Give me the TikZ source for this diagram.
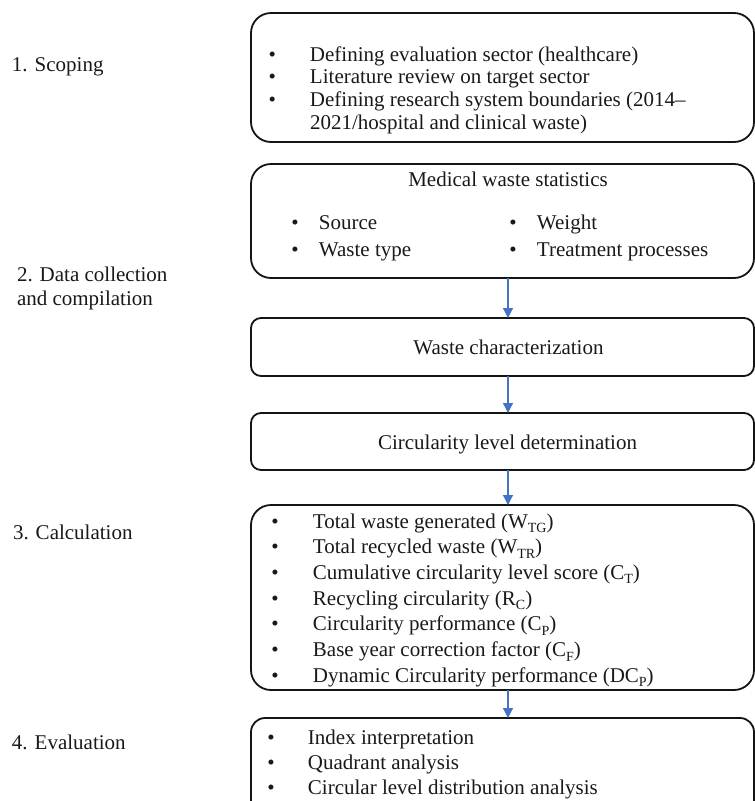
\documentclass[tikz,border=0pt]{standalone}
\usepackage{fontspec}
\setmainfont{Liberation Serif}
\usetikzlibrary{arrows.meta}
\definecolor{arrblue}{RGB}{68,114,196}
\definecolor{txtc}{RGB}{25,25,25}
\definecolor{linec}{RGB}{20,20,20}
\newcommand\sbs[1]{\raisebox{-4.5pt}{\fontsize{14}{14}\selectfont #1}}
\begin{document}
\begin{tikzpicture}[x=1pt,y=1pt,
  box/.style={draw=linec, line width=1.8pt, rounded corners=#1, minimum width=503pt, inner sep=0pt, outer sep=0pt},
  box/.default=20pt,
  txt/.style={anchor=base west, inner sep=0pt, outer sep=0pt, text=txtc, font=\fontsize{21}{24}\selectfont},
  ctxt/.style={txt, anchor=base},
  arr/.style={draw=arrblue, line width=1.2pt, -{Triangle[length=10pt,width=10pt]}}]
\useasboundingbox (0,0) rectangle (755,-801);
\clip (0,0) rectangle (755,-801);

% boxes
\node[box, minimum height=129pt] (b1) at (502.5,-77.5) {};
\node[box, minimum height=114pt] (b2) at (502.5,-221) {};
\node[box=10pt, minimum height=58pt] (b3) at (502.5,-347) {};
\node[box=10pt, minimum height=57pt] (b4) at (502.5,-441.5) {};
\node[box, minimum height=185pt] (b5) at (502.5,-597.5) {};
\node[box=14pt, minimum height=104pt] (b6) at (502.5,-770) {};

% stage labels
\node[txt] (l1) at (12,-71) {1. Scoping};
\node[txt] (l2) at (17,-281) {\begin{tabular}[t]{@{}l@{}}2. Data collection\\ and compilation\end{tabular}};
\node[txt] (l3) at (13,-539) {3. Calculation};
\node[txt] (l4) at (12,-749) {4. Evaluation};

% box 1
\node[txt, font=\fontsize{21}{22.7}\selectfont] (t1) at (268.5,-61) {\begin{tabular}[t]{@{}p{41.5pt}@{}l@{}}
• & Defining evaluation sector (healthcare)\\
• & Literature review on target sector\\
• & Defining research system boundaries (2014–\\
  & 2021/hospital and clinical waste)
\end{tabular}};

% box 2
\node[ctxt] (t2h) at (508,-186) {Medical waste statistics};
\node[txt, font=\fontsize{21}{27}\selectfont] (t2a) at (291.3,-229) {\begin{tabular}[t]{@{}p{27.7pt}@{}l@{}}
• & Source\\
• & Waste type
\end{tabular}};
\node[txt, font=\fontsize{21}{27}\selectfont] (t2b) at (509.3,-229) {\begin{tabular}[t]{@{}p{27.7pt}@{}l@{}}
• & Weight\\
• & Treatment processes
\end{tabular}};

% box 3, 4
\node[ctxt] (t3) at (508.5,-354) {Waste characterization};
\node[ctxt] (t4) at (507.5,-449) {Circularity level determination};

% box 5
\node[txt, font=\fontsize{21}{25.7}\selectfont] (t5) at (271.3,-528) {\begin{tabular}[t]{@{}p{41.7pt}@{}l@{}}
• & Total waste generated (W\sbs{TG})\\
• & Total recycled waste (W\sbs{TR})\\
• & Cumulative circularity level score (C\sbs{T})\\
• & Recycling circularity (R\sbs{C})\\
• & Circularity performance (C\sbs{P})\\
• & Base year correction factor (C\sbs{F})\\
• & Dynamic Circularity performance (DC\sbs{P})
\end{tabular}};

% box 6
\node[txt, font=\fontsize{21}{25}\selectfont] (t6) at (267.3,-744) {\begin{tabular}[t]{@{}p{40.7pt}@{}l@{}}
• & Index interpretation\\
• & Quadrant analysis\\
• & Circular level distribution analysis
\end{tabular}};

% arrows
\draw[arr] ([xshift=5.5pt]b2.south) -- ([xshift=5.5pt]b3.north);
\draw[arr] ([xshift=5.5pt]b3.south) -- ([xshift=5.5pt]b4.north);
\draw[arr] ([xshift=5.5pt]b4.south) -- ([xshift=5.5pt]b5.north);
\draw[arr] ([xshift=5.5pt]b5.south) -- ([xshift=5.5pt]b6.north);
\end{tikzpicture}
\end{document}
